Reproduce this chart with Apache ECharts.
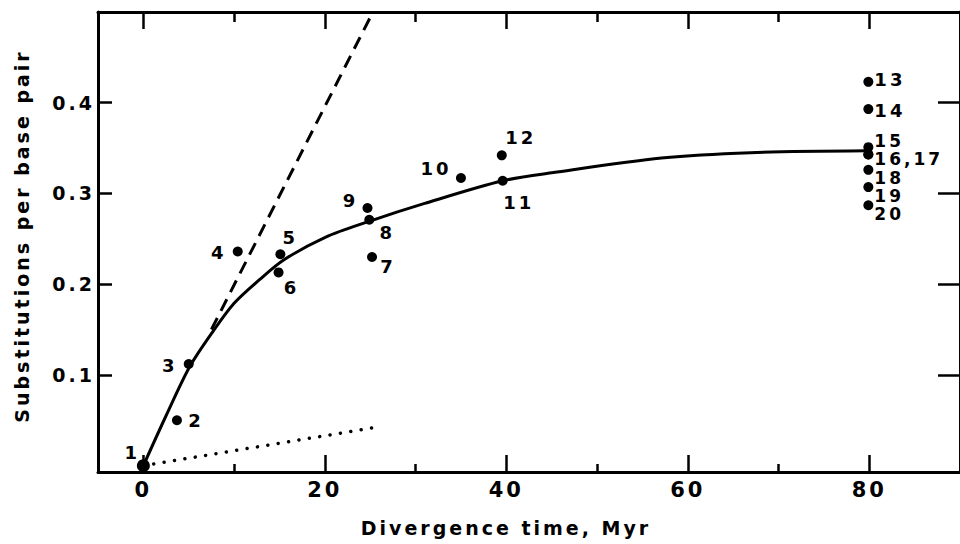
<!DOCTYPE html>
<html>
<head>
<meta charset="utf-8">
<script src="https://cdn.jsdelivr.net/npm/echarts@6.0.0/dist/echarts.min.js"></script>
<style>
  html, body { margin: 0; padding: 0; background: #fff; }
  #chart { width: 960px; height: 544px; }
  #chart text { letter-spacing: 3px; }
</style>
</head>
<body>
<div id="chart"></div>
<script>
// ---- data ----
const pointNumbers = [1, 2, 3, 4, 5, 6, 7, 8, 9, 10, 11, 12, 13, 14, 15, 16, 17, 18, 19, 20];
const pointLabels = ['1', '2', '3', '4', '5', '6', '7', '8', '9', '10', '11', '12', '13', '14', '15', '16,17', '', '18', '19', '20'];
const pointTime = [0, 3.7, 5.0, 10.4, 15.1, 14.9, 25.2, 24.9, 24.7, 35.0, 39.6, 39.5, 79.9, 79.9, 79.9, 79.9, 79.9, 79.9, 79.9, 79.9];
const pointSubst = [0, 0.050, 0.112, 0.236, 0.233, 0.213, 0.230, 0.271, 0.284, 0.317, 0.314, 0.342, 0.423, 0.393, 0.351, 0.343, 0.343, 0.326, 0.307, 0.287];

const curveTime = [0, 2.5, 5.1, 7.6, 10.0, 12.8, 15.5, 20.1, 24.8, 31.0, 39.6, 45.2, 57.1, 66.9, 79.7];
const curveSubst = [0, 0.055, 0.109, 0.147, 0.179, 0.205, 0.227, 0.252, 0.269, 0.289, 0.314, 0.323, 0.339, 0.345, 0.347];

const dashedTime = [7.5, 25.3];
const dashedSubst = [0.15, 0.5];

const dottedTime = [0, 25.5];
const dottedSubst = [0, 0.042];

const xMajorTicks = [0, 20, 40, 60, 80];
const xMinorTicks = [10, 30, 50, 70];
const yTicks = [0.1, 0.2, 0.3, 0.4];

const xTitle = 'Divergence time, Myr';
const yTitle = 'Substitutions per base pair';

// ---- label placement (style only): [dx, dy, align, fontSize] ----
const labelPlace = [
  [-11, -13, 'center', 18], [19, 0, 'center', 18], [-19, 1, 'center', 18], [-19, 1, 'center', 18],
  [10, -17, 'center', 18], [13, 15, 'center', 18], [16, 10, 'center', 18], [18, 13, 'center', 18],
  [-17, -7, 'center', 18], [-25, -10, 'center', 18], [16, 22, 'center', 18], [19, -18, 'center', 18],
  [6, -2, 'left', 18], [6, 1, 'left', 18], [6, -6, 'left', 17], [6, 5, 'left', 17], [6, 0, 'left', 17],
  [6, 8, 'left', 17], [6, 9, 'left', 17], [6, 9, 'left', 17]
];

const FONT = '"DejaVu Sans", sans-serif';
const INK = '#000';

const zip = (xs, ys) => xs.map((x, i) => [x, ys[i]]);

const scatterData = pointNumbers.map((n, i) => ({
  name: String(n),
  value: [pointTime[i], pointSubst[i]],
  symbolSize: n === 1 ? 13 : 10,
  label: {
    show: pointLabels[i] !== '',
    formatter: pointLabels[i],
    position: 'inside',
    offset: [labelPlace[i][0], labelPlace[i][1]],
    align: labelPlace[i][2],
    fontSize: labelPlace[i][3],
    lineHeight: labelPlace[i][3],
    verticalAlign: 'middle'
  }
}));

const X_MIN = -5, X_MAX = 90, Y_MIN = -0.007, Y_MAX = 0.5;

const baseX = {
  type: 'value', min: X_MIN, max: X_MAX,
  splitLine: { show: false }
};

const chart = echarts.init(document.getElementById('chart'), null, { renderer: 'svg' });

chart.setOption({
  animation: false,
  backgroundColor: '#fff',
  grid: { left: 98, top: 12, right: -11, bottom: 72, containLabel: false },
  xAxis: [
    Object.assign({}, baseX, {
      position: 'bottom',
      axisLine: { show: true, onZero: false, lineStyle: { color: INK, width: 3 } },
      axisTick: { show: true, inside: true, length: 17, customValues: xMajorTicks, lineStyle: { color: INK, width: 2.5 } },
      axisLabel: { show: true, customValues: xMajorTicks, color: INK, fontFamily: FONT, fontWeight: 'bold', fontSize: 21, margin: 7 }
    }),
    Object.assign({}, baseX, {
      position: 'bottom',
      axisLine: { show: false, onZero: false },
      axisTick: { show: true, inside: true, length: 8, customValues: xMinorTicks, lineStyle: { color: INK, width: 2.5 } },
      axisLabel: { show: false }
    }),
    Object.assign({}, baseX, {
      position: 'top',
      axisLine: { show: true, onZero: false, lineStyle: { color: INK, width: 3 } },
      axisTick: { show: true, inside: true, length: 17, customValues: xMajorTicks, lineStyle: { color: INK, width: 2.5 } },
      axisLabel: { show: false }
    }),
    Object.assign({}, baseX, {
      position: 'top',
      axisLine: { show: false, onZero: false },
      axisTick: { show: true, inside: true, length: 10, customValues: xMinorTicks, lineStyle: { color: INK, width: 2.5 } },
      axisLabel: { show: false }
    })
  ],
  yAxis: [
    {
      type: 'value', min: Y_MIN, max: Y_MAX, position: 'left',
      splitLine: { show: false },
      axisLine: { show: true, onZero: false, lineStyle: { color: INK, width: 3 } },
      axisTick: { show: true, inside: true, length: 14, customValues: yTicks, lineStyle: { color: INK, width: 2.5 } },
      axisLabel: { show: true, customValues: yTicks, formatter: v => v.toFixed(1), color: INK, fontFamily: FONT, fontWeight: 'bold', fontSize: 19, margin: 3 }
    },
    {
      type: 'value', min: Y_MIN, max: Y_MAX, position: 'right',
      splitLine: { show: false },
      axisLine: { show: true, onZero: false, lineStyle: { color: INK, width: 3 } },
      axisTick: { show: true, inside: true, length: 22, customValues: yTicks, lineStyle: { color: INK, width: 2.5 } },
      axisLabel: { show: false }
    }
  ],
  graphic: [
    {
      type: 'text', x: 506, y: 528,
      style: { text: xTitle, fill: INK, font: 'bold 19px ' + FONT, textAlign: 'center', textVerticalAlign: 'middle' }
    },
    {
      type: 'text', x: 22, y: 236, rotation: Math.PI / 2,
      style: { text: yTitle, fill: INK, font: 'bold 19px ' + FONT, textAlign: 'center', textVerticalAlign: 'middle' }
    }
  ],
  series: [
    {
      type: 'line', name: 'dotted', data: zip(dottedTime, dottedSubst),
      symbol: 'none', silent: true,
      lineStyle: { color: INK, width: 3.5, type: [0.01, 10.5], cap: 'round' }
    },
    {
      type: 'line', name: 'dashed', data: zip(dashedTime, dashedSubst),
      symbol: 'none', silent: true,
      lineStyle: { color: INK, width: 3, type: [13, 8] }
    },
    {
      type: 'line', name: 'fit', data: zip(curveTime, curveSubst),
      symbol: 'none', smooth: 0.3, silent: true,
      lineStyle: { color: INK, width: 3 }
    },
    {
      type: 'scatter', name: 'points', data: scatterData,
      symbol: 'circle', itemStyle: { color: INK, opacity: 1 },
      label: { color: INK, fontFamily: FONT, fontWeight: 'bold', fontSize: 18 },
      z: 5
    }
  ]
});
</script>
</body>
</html>
